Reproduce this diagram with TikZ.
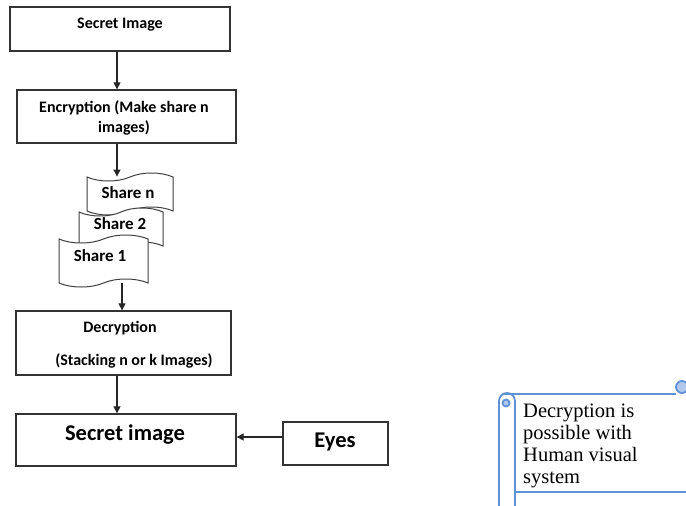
\documentclass[tikz,border=0pt]{standalone}
\usepackage{fontspec}
\setmainfont{Carlito}
\newfontfamily\scrollfont{Liberation Serif}
\usetikzlibrary{shapes.symbols,arrows.meta}
\definecolor{scrollblue}{RGB}{95,145,215}
\definecolor{scrollfill}{RGB}{175,200,235}
\begin{document}
\begin{tikzpicture}[x=1pt,y=-1pt,
  box/.style={draw=black!80, line width=1.3pt, fill=white, inner sep=0pt},
  arr/.style={-{Triangle[length=7pt,width=7pt]}, line width=1.2pt, draw=black!85},
  sharebox/.style={tape, draw=black!75, line width=1pt, fill=white,
    tape bend top=in and out, tape bend bottom=in and out,
    tape bend height=8pt, inner sep=0pt},
  small/.style={font=\bfseries\fontsize{16}{20}\selectfont, inner sep=0pt},
  sharelbl/.style={font=\bfseries\fontsize{17}{20}\selectfont, inner sep=0pt},
  big/.style={font=\bfseries\fontsize{22.5}{26}\selectfont, inner sep=0pt},
  scrollline/.style={draw=scrollblue, line width=1.8pt}]
\useasboundingbox (0,0) rectangle (686,506);

% axis coordinates for arrows
\coordinate (ax1) at (117,0);
\coordinate (ax2) at (122,0);
\coordinate (ay1) at (0,437);

% top boxes
\node[box, minimum width=220pt, minimum height=44pt] (sec1) at (120,29) {};
\node[small] (sec1t) at (120,25) {Secret Image};

\node[box, minimum width=219pt, minimum height=53pt] (enc) at (126.5,116.5) {};
\node[small, align=center] (enct) at (124,118) {Encryption (Make share n\\images)};

% shares
\node[sharebox, minimum width=86pt, minimum height=42pt] (sharen) at (130,194) {};
\node[sharelbl] (sharent) at (128,193) {Share n};
\node[sharebox, minimum width=84pt, minimum height=42pt] (share2) at (121,229) {};
\node[sharelbl] (share2t) at (120,224) {Share 2};
\node[sharebox, minimum width=89pt, minimum height=52pt] (share1) at (103.5,261) {};
\node[sharelbl] (share1t) at (100,256) {Share 1};

% decryption
\node[box, minimum width=215pt, minimum height=64pt] (dec) at (123.5,343) {};
\node[small] (dect1) at (120,328) {Decryption};
\node[small] (dect2) at (134,361) {(Stacking n or k Images)};

% bottom
\node[box, minimum width=220pt, minimum height=52pt] (sec2) at (126,440) {};
\node[big] (sec2t) at (125,435) {Secret image};
\node[box, minimum width=105pt, minimum height=43pt] (eyes) at (335.5,443.5) {};
\node[big] (eyest) at (335,442) {Eyes};

% arrows
\draw[arr] (sec1.south -| ax1) -- (enc.north -| ax1);
\draw[arr] (enc.south -| ax1) -- (sharen.north -| ax1);
\draw[arr] (share1.south -| ax2) -- (dec.north -| ax2);
\draw[arr] (dec.south -| ax1) -- (sec2.north -| ax1);
\draw[arr] (eyes.west |- ay1) -- (sec2.east |- ay1);

% horizontal scroll
\draw[scrollline] (515,492) -- (700,492);
\draw[scrollline] (504,394) -- (676,394);
\draw[scrollline, rounded corners=8pt] (499,530) -- (499,393) -- (515,393) -- (515,530);
\draw[scrollline, fill=scrollfill] (506,403) circle (3.5pt);
\draw[scrollline, fill=scrollfill] (682,387) circle (6pt);
\node[font=\scrollfont\fontsize{20.5}{22}\selectfont, align=left, anchor=north west, inner sep=0pt] (scrolltext) at (523,404)
  {Decryption is\\possible with\\Human visual\\system};
\end{tikzpicture}
\end{document}
